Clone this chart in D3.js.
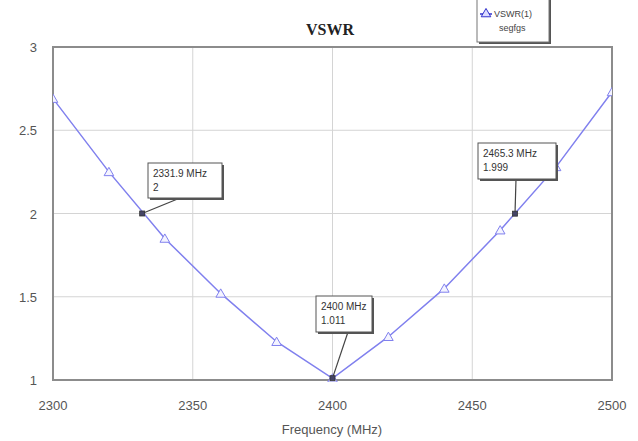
<!DOCTYPE html>
<html>
<head>
<meta charset="utf-8">
<script src="https://cdn.jsdelivr.net/npm/d3@7"></script>
<style>
  body { margin: 0; background: #fff; }
  text { font-family: "Liberation Sans", Arial, sans-serif; }
</style>
</head>
<body>
<svg id="chart" width="638" height="441"></svg>
<script>
// data
var freqs = [2300, 2320, 2340, 2360, 2380, 2400, 2420, 2440, 2460, 2480, 2500];
var vswr  = [2.69, 2.25, 1.85, 1.52, 1.23, 1.01, 1.26, 1.55, 1.90, 2.28, 2.73];
var xTicks = [2300, 2350, 2400, 2450, 2500];
var yTicks = [1, 1.5, 2, 2.5, 3];
var markerFreq = [2331.9, 2400, 2465.3];
var markerVal  = [2, 1.011, 1.999];
var markerText = [["2331.9 MHz", "2"], ["2400 MHz", "1.011"], ["2465.3 MHz", "1.999"]];
var legendText = ["VSWR(1)", "segfgs"];

var svg = d3.select("#chart");
var pLeft = 53, pRight = 612, pTop = 47, pBottom = 380;
var lineColor = "#8080ee";

var x = d3.scaleLinear().domain([2300, 2500]).range([pLeft, pRight]);
var y = d3.scaleLinear().domain([1, 3]).range([pBottom, pTop]);

// grid
svg.append("g").selectAll("line")
  .data(xTicks.slice(1, -1))
  .join("line")
  .attr("x1", d => x(d)).attr("x2", d => x(d))
  .attr("y1", pTop).attr("y2", pBottom)
  .style("stroke", "#d4d4d4").style("stroke-width", 1);
svg.append("g").selectAll("line")
  .data(yTicks.slice(1, -1))
  .join("line")
  .attr("x1", pLeft).attr("x2", pRight)
  .attr("y1", d => y(d)).attr("y2", d => y(d))
  .style("stroke", "#d4d4d4").style("stroke-width", 1);

// frame
svg.append("rect")
  .attr("x", pLeft).attr("y", pTop)
  .attr("width", pRight - pLeft).attr("height", pBottom - pTop)
  .style("fill", "none").style("stroke", "#8c8c8c").style("stroke-width", 2);

// tick labels
svg.append("g").selectAll("text")
  .data(xTicks)
  .join("text")
  .attr("x", d => x(d)).attr("y", 410)
  .attr("text-anchor", "middle")
  .style("font-size", "13px").style("fill", "#555")
  .text(d => d);
svg.append("g").selectAll("text")
  .data(yTicks)
  .join("text")
  .attr("x", 37).attr("y", d => y(d) + 5)
  .attr("text-anchor", "end")
  .style("font-size", "13px").style("fill", "#555")
  .text(d => d);

svg.append("text")
  .attr("x", 332).attr("y", 434)
  .attr("text-anchor", "middle")
  .style("font-size", "13px").style("fill", "#555")
  .text("Frequency (MHz)");

svg.append("text")
  .attr("x", 330).attr("y", 35)
  .attr("text-anchor", "middle")
  .style("font-family", "'Liberation Serif', 'Times New Roman', serif")
  .style("font-weight", "bold").style("font-size", "16px").style("fill", "#222")
  .text("VSWR");

// curve
var pts = freqs.map((f, i) => [f, vswr[i]]);
svg.append("defs").append("clipPath").attr("id", "clip")
  .append("rect").attr("x", pLeft).attr("y", pTop)
  .attr("width", pRight - pLeft).attr("height", pBottom - pTop + 2);
var plot = svg.append("g").attr("clip-path", "url(#clip)");
plot.append("path")
  .datum(pts)
  .attr("d", d3.line().x(d => x(d[0])).y(d => y(d[1])).curve(d3.curveLinear))
  .style("fill", "none").style("stroke", lineColor).style("stroke-width", 1.5);

var tri = d3.symbol().type(d3.symbolTriangle).size(40);
plot.selectAll("path.m")
  .data(pts)
  .join("path")
  .attr("class", "m")
  .attr("transform", d => "translate(" + x(d[0]) + "," + (y(d[1]) + 1) + ")")
  .attr("d", tri)
  .style("fill", "#f4f4ff").style("stroke", lineColor).style("stroke-width", 1);

// marker callouts
var boxes = [
  {x: 148, y: 163, w: 74, h: 35, lx: 180, ly: 198},
  {x: 316, y: 296, w: 56, h: 36, lx: 348, ly: 332},
  {x: 478, y: 143, w: 78, h: 36, lx: 516, ly: 179}
];
markerFreq.forEach(function(f, i) {
  var b = boxes[i];
  var px = x(f), py = y(markerVal[i]);
  svg.append("line")
    .attr("x1", b.lx).attr("y1", b.ly).attr("x2", px).attr("y2", py)
    .style("stroke", "#444").style("stroke-width", 1.2);
  svg.append("rect")
    .attr("x", b.x + 2).attr("y", b.y + 2).attr("width", b.w).attr("height", b.h)
    .style("fill", "#555");
  svg.append("rect")
    .attr("x", b.x).attr("y", b.y).attr("width", b.w).attr("height", b.h)
    .style("fill", "#fff").style("stroke", "#555").style("stroke-width", 1);
  svg.append("rect")
    .attr("x", px - 2.5).attr("y", py - 2.5).attr("width", 5).attr("height", 5)
    .style("fill", "#444466").style("stroke", "#333").style("stroke-width", 0.8);
  markerText[i].forEach(function(t, j) {
    svg.append("text")
      .attr("x", b.x + 5).attr("y", b.y + 14 + j * 14)
      .style("font-size", "10px").style("fill", "#333")
      .text(t);
  });
});

// legend
svg.append("rect").attr("x", 479).attr("y", -2).attr("width", 72).attr("height", 46)
  .style("fill", "#555");
svg.append("rect").attr("x", 477).attr("y", -4).attr("width", 72).attr("height", 46)
  .style("fill", "#fff").style("stroke", "#777");
svg.append("line").attr("x1", 480).attr("x2", 492).attr("y1", 14).attr("y2", 14)
  .style("stroke", "#3333cc").style("stroke-width", 1.5);
svg.append("path").attr("transform", "translate(486,14)")
  .attr("d", d3.symbol().type(d3.symbolTriangle).size(40))
  .style("fill", "#ddddff").style("stroke", "#3333cc");
legendText.forEach(function(t, j) {
  svg.append("text")
    .attr("x", j === 0 ? 494 : 499).attr("y", 17 + j * 14)
    .style("font-size", "9px").style("fill", "#444")
    .text(t);
});
</script>
</body>
</html>
